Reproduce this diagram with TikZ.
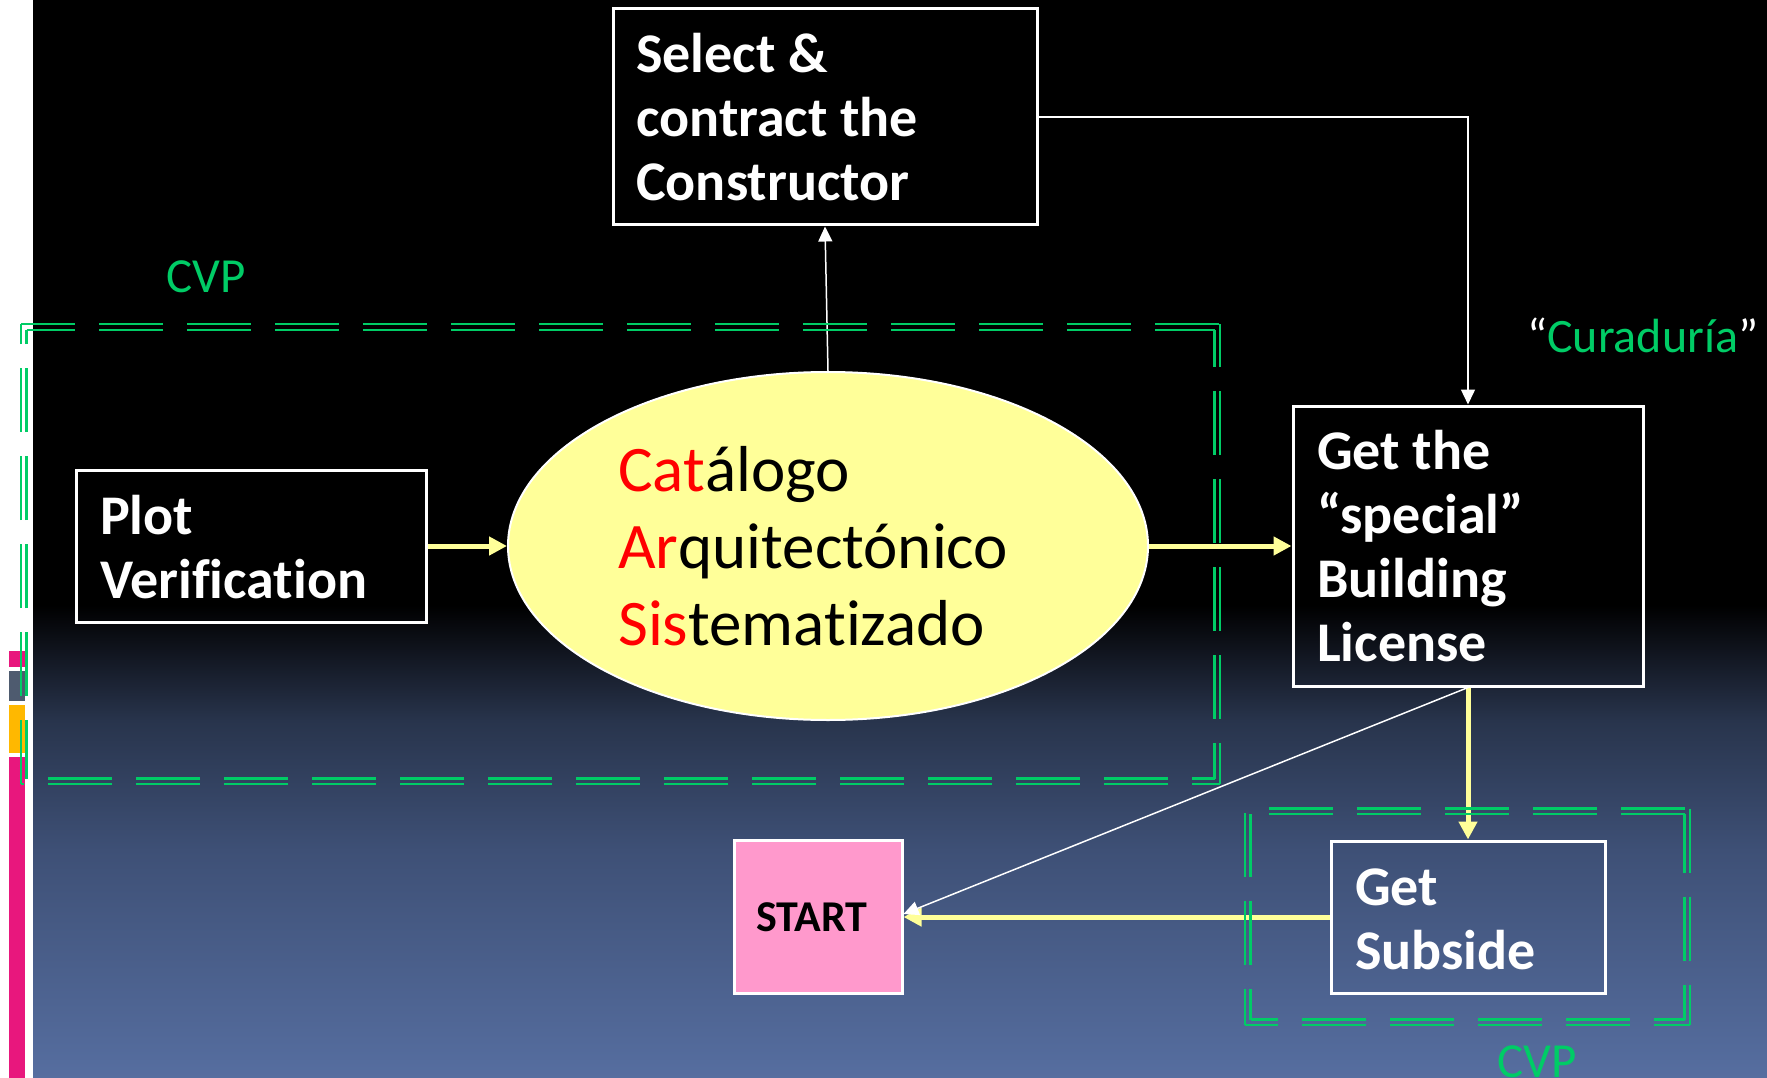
\documentclass[tikz,border=0pt]{standalone}
\usepackage{fontspec}
\setmainfont{Carlito}[Ligatures={NoCommon}]
\usetikzlibrary{arrows.meta,shapes.geometric}
\definecolor{cvpgreen}{RGB}{0,204,102}
\definecolor{ylw}{RGB}{255,255,153}
\definecolor{startpink}{RGB}{255,153,204}
\definecolor{stripmag}{RGB}{232,23,125}
\definecolor{stripgray}{RGB}{78,91,111}
\definecolor{striporg}{RGB}{255,184,0}
\definecolor{bgA}{RGB}{16,20,30}
\definecolor{bgB}{RGB}{40,52,76}
\definecolor{bgC}{RGB}{62,80,118}
\definecolor{bgD}{RGB}{86,110,160}
\newcommand\cvpside[3]{\draw[cvpline, dash phase=#3pt] #1 -- #2;}
\tikzset{
  wbox/.style={rectangle, draw=white, line width=3pt, inner sep=0pt},
  btext/.style={text=white, font=\fontsize{56}{64}\selectfont\bfseries, anchor=base west, inner sep=0pt},
  etext/.style={text=black, font=\fontsize{65}{77}\selectfont, anchor=base west, inner sep=0pt},
  gtext/.style={text=cvpgreen, font=\fontsize{49}{58}\selectfont, anchor=base west, inner sep=0pt},
  yarrow/.style={draw=ylw, line width=5pt, -{Triangle[length=18pt,width=18pt]}},
  warrow/.style={draw=white, line width=1.5pt, -{Triangle[length=15pt,width=14pt]}},
  cvpline/.style={draw=cvpgreen, line width=2.2pt, dash pattern=on 64pt off 24pt}
}
\begin{document}
\begin{tikzpicture}[x=1pt,y=-1pt]
\useasboundingbox (0,0) rectangle (1767,1078);
% background
\fill[white] (0,0) rectangle (33,1078);
\fill[black] (33,0) rectangle (1767,605.5);
\shade[top color=black, bottom color=bgA] (33,605) rectangle (1767,650.5);
\shade[top color=bgA, bottom color=bgB] (33,650) rectangle (1767,720.5);
\shade[top color=bgB, bottom color=bgC] (33,720) rectangle (1767,850.5);
\shade[top color=bgC, bottom color=bgD] (33,850) rectangle (1767,1078);
% strips
\fill[stripmag] (9,651) rectangle (25,667);
\fill[stripgray] (9,671) rectangle (25,701);
\fill[striporg] (9,705) rectangle (25,753);
\fill[stripmag] (9,757) rectangle (25,1078);
% nodes
\node[ellipse, minimum width=640pt, minimum height=348pt, fill=ylw, draw=white, line width=2pt, inner sep=0pt] (ell) at (828,546) {};
\node[wbox, minimum width=424pt, minimum height=216pt] (sel) at (825,117) {};
\node[wbox, minimum width=350pt, minimum height=152pt] (plot) at (251,546) {};
\node[wbox, minimum width=350pt, minimum height=280pt] (lic) at (1468,546) {};
\node[wbox, minimum width=274pt, minimum height=152pt] (sub) at (1468,917) {};
\node[wbox, minimum width=168pt, minimum height=153pt, fill=startpink, text=black, font=\fontsize{44}{50}\selectfont\bfseries] (start) at (818,917) {\hspace*{-12pt}START};
% texts
\node[btext] (selT) at (636,73) {\vtop{\hbox{Select \&}\hbox{contract the}\hbox{Constructor}}};
\node[btext] (plotT) at (100,534) {\vtop{\hbox{Plot}\hbox{Verification}}};
\node[btext] (licT) at (1317,469) {\vtop{\hbox{Get the}\hbox{“special”}\hbox{Building}\hbox{License}}};
\node[btext] (subT) at (1355,905) {\vtop{\hbox{Get}\hbox{Subside}}};
\node[etext] (ellT) at (618,491) {\vtop{\hbox{\textcolor{red}{Cat}álogo}\hbox{\textcolor{red}{Ar}quitectónico}\hbox{\textcolor{red}{Sis}tematizado}}};
\node[gtext] (cvp1) at (166,292) {CVP};
\node[gtext] (cvp2) at (1497,1077) {CVP};
\node[gtext, text=white, font=\fontsize{48}{58}\selectfont] (cur) at (1527,352) {“\textcolor{cvpgreen}{Curaduría}”};
% connectors
\draw[yarrow] (plot.east) -- (ell.west);
\draw[yarrow] (ell.east) -- (lic.west);
\draw[yarrow] (lic.south) -- (sub.north);
\draw[yarrow] (sub.west) -- (start.east);
\draw[warrow] (ell.north) -- (sel.south);
\draw[warrow] (sel.east) -| (lic.north);
\draw[warrow] (lic.south) -- ([yshift=3pt]start.east);
% CVP dashed double frames
\cvpside{(21,324.3)}{(1220,324.3)}{10}
\cvpside{(26.5,329.8)}{(1214.5,329.8)}{15.5}
\cvpside{(1220,324.3)}{(1220,784)}{21}
\cvpside{(1214.5,329.8)}{(1214.5,778.5)}{26.5}
\cvpside{(1220,784)}{(21,784)}{36}
\cvpside{(1214.5,778.5)}{(26.5,778.5)}{41.5}
\cvpside{(21,784)}{(21,324.3)}{0}
\cvpside{(26.5,778.5)}{(26.5,329.8)}{5.5}
\cvpside{(1245,808.5)}{(1690,808.5)}{64}
\cvpside{(1250.5,814)}{(1684.5,814)}{69.5}
\cvpside{(1690,808.5)}{(1690,1025)}{0}
\cvpside{(1684.5,814)}{(1684.5,1019.5)}{5.5}
\cvpside{(1690,1025)}{(1245,1025)}{28}
\cvpside{(1684.5,1019.5)}{(1250.5,1019.5)}{33.5}
\cvpside{(1245,1025)}{(1245,808.5)}{28}
\cvpside{(1250.5,1019.5)}{(1250.5,814)}{33.5}
\end{tikzpicture}
\end{document}
